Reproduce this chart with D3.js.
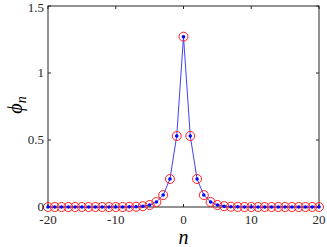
<!DOCTYPE html>
<html><head><meta charset="utf-8">
<script src="https://cdn.jsdelivr.net/npm/d3@7"></script>
<style>body{margin:0;background:#fff}svg{display:block}
text{font-family:"Liberation Serif","DejaVu Serif","Times New Roman",serif}</style>
</head><body>
<script>
const nValues = d3.range(-20, 21);
const phiValues = [0,0,0,0,0,0,0,0,0,0,0,0,0.001,0.002,0.006,0.015,0.037,0.089,0.209,0.53,
  1.271,0.53,0.209,0.089,0.037,0.015,0.006,0.002,0.001,0,0,0,0,0,0,0,0,0,0,0,0];
const xTicks = [-20,-10,0,10,20];
const yTicks = [0,0.5,1,1.5];
const yTickLabels = ["0","0.5","1","1.5"];

const W = 327, H = 247;
const m = {l:48, r:8, t:6, b:40};
const svg = d3.select("body").append("svg").attr("width",W).attr("height",H);
const x = d3.scaleLinear().domain([-20,20]).range([m.l, W-m.r]);
const y = d3.scaleLinear().domain([0,1.5]).range([H-m.b, m.t]);

svg.append("rect").attr("x",x(-20)).attr("y",y(1.5)).attr("width",x(20)-x(-20)).attr("height",y(0)-y(1.5))
  .attr("fill","none").attr("stroke","#262626").attr("stroke-width",1);

const data = nValues.map((n,i)=>({n, v:phiValues[i]}));
svg.append("path").datum(data)
  .attr("d", d3.line().x(d=>x(d.n)).y(d=>y(d.v)))
  .attr("fill","none").attr("stroke","#4040ff").attr("stroke-width",1);

const tl = 3;
const g = svg.append("g").attr("stroke","#262626").attr("stroke-width",1);
xTicks.forEach(t=>{
  g.append("line").attr("x1",x(t)).attr("x2",x(t)).attr("y1",y(0)).attr("y2",y(0)-tl);
  g.append("line").attr("x1",x(t)).attr("x2",x(t)).attr("y1",y(1.5)).attr("y2",y(1.5)+tl);
});
yTicks.forEach(t=>{
  g.append("line").attr("y1",y(t)).attr("y2",y(t)).attr("x1",x(-20)).attr("x2",x(-20)+tl);
  g.append("line").attr("y1",y(t)).attr("y2",y(t)).attr("x1",x(20)).attr("x2",x(20)-tl);
});

svg.append("g").selectAll("circle").data(data).join("circle")
  .attr("cx",d=>x(d.n)).attr("cy",d=>y(d.v)).attr("r",4.5)
  .attr("fill","none").attr("stroke","#ff2020").attr("stroke-width",1);
svg.append("g").selectAll("circle").data(data).join("circle")
  .attr("cx",d=>x(d.n)).attr("cy",d=>y(d.v)).attr("r",1.8)
  .attr("fill","#0000ff");

svg.append("g").selectAll("text").data(xTicks).join("text")
  .attr("x",d=>x(d)).attr("y",y(0)+17).attr("text-anchor","middle")
  .attr("font-size",13).attr("fill","#262626").text(d=>d);
svg.append("g").selectAll("text").data(yTicks).join("text")
  .attr("x",x(-20)-4).attr("y",d=>Math.max(y(d)+3.5, 11.5)).attr("text-anchor","end")
  .attr("font-size",13).attr("fill","#262626").text((d,i)=>yTickLabels[i]);

svg.append("text").attr("x",x(0)).attr("y",244).attr("text-anchor","middle")
  .attr("font-size",20).attr("font-style","italic").attr("fill","#000").text("n");
const yl = svg.append("text").attr("transform","translate(22,105) rotate(-90)").attr("text-anchor","middle")
  .attr("font-size",20).attr("font-style","italic").attr("fill","#000");
yl.append("tspan").text("ϕ");
yl.append("tspan").attr("font-size",14).attr("dy",4).text("n");
</script>
</body></html>
